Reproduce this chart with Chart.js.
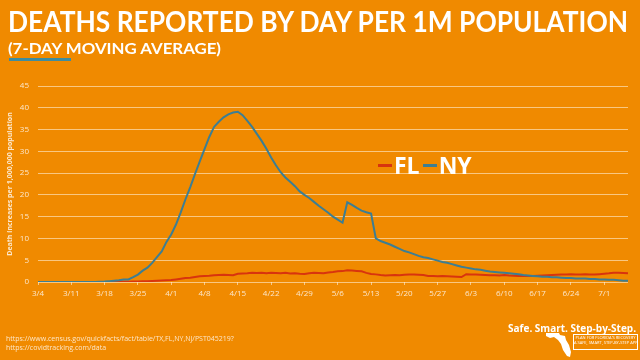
<!DOCTYPE html>
<html>
<head>
<meta charset="utf-8">
<script src="https://cdn.jsdelivr.net/npm/chart.js@4"></script>
<style>
  html, body { margin: 0; padding: 0; }
  body { width: 640px; height: 360px; background: #F08A00; position: relative; overflow: hidden; font-family: "Liberation Sans Narrow", "Open Sans", sans-serif; }
  #wrap { position: absolute; left: 0; top: 0; width: 640px; height: 360px; }
  .title { position: absolute; left: 8px; top: 4px; color: #fff; font-family: Lato, "Open Sans", sans-serif; font-weight: 700; font-size: 28px; white-space: nowrap; transform-origin: 0 0; letter-spacing: 0; }
  .sub { position: absolute; left: 8px; top: 38px; color: #fff; font-family: Lato, "Open Sans", sans-serif; font-weight: 700; font-size: 16px; white-space: nowrap; transform-origin: 0 0; }
  .uline { position: absolute; left: 9px; top: 58px; width: 62px; height: 3px; background: #3F8C9E; }
  .legend { position: absolute; left: 378px; top: 149px; color: #fff; font-family: "Open Sans", Lato, sans-serif; font-weight: 700; font-size: 23px; white-space: nowrap; display: flex; align-items: center; }
  .legend .sw { display: inline-block; width: 14px; height: 3px; margin-right: 2px; }
  .foot { position: absolute; left: 6px; color: #fde7c8; font-size: 7px; white-space: nowrap; }
  .logo1 { position: absolute; right: 4px; top: 321px; color: #fff; font-weight: 700; font-size: 10px; white-space: nowrap; }
  .logobox { position: absolute; left: 573px; top: 334px; width: 63px; height: 14px; border: 1px solid #fff; color: #fff; font-size: 4px; line-height: 5px; text-align: center; white-space: nowrap; overflow: hidden; }
</style>
</head>
<body>
<div id="wrap"><canvas id="c" width="640" height="360"></canvas></div>
<div class="title" id="title">DEATHS REPORTED BY DAY PER 1M POPULATION</div>
<div class="sub" id="sub">(7-DAY MOVING AVERAGE)</div>
<div class="uline"></div>
<div class="legend"><span class="sw" style="background:#D8340E"></span><span>FL</span><span class="sw" style="background:#3C7E93;margin-left:3px"></span><span>NY</span></div>
<div class="foot" style="top:334px">https://www.census.gov/quickfacts/fact/table/TX,FL,NY,NJ/PST045219?</div>
<div class="foot" style="top:343px">https://covidtracking.com/data</div>
<div class="logo1">Safe. Smart. Step-by-Step.</div>
<svg style="position:absolute;left:545px;top:332px" width="28" height="26" viewBox="0 0 28 26"><path d="M1 1 L14 1 L15 3 L20 4 L21 8 L24 13 L26 20 L25 25 L22 24 L18 18 L16 12 L13 8 L9 5 L5 6 L1 4 Z" fill="#fff"/></svg>
<div class="logobox">PLAN FOR FLORIDA'S RECOVERY<br>A SAFE, SMART, STEP-BY-STEP APPROACH</div>
<script>
const dates = [
 "3/4","3/5","3/6","3/7","3/8","3/9","3/10","3/11","3/12","3/13","3/14","3/15","3/16","3/17","3/18","3/19","3/20","3/21","3/22","3/23","3/24","3/25","3/26","3/27","3/28","3/29","3/30","3/31",
 "4/1","4/2","4/3","4/4","4/5","4/6","4/7","4/8","4/9","4/10","4/11","4/12","4/13","4/14","4/15","4/16","4/17","4/18","4/19","4/20","4/21","4/22","4/23","4/24","4/25","4/26","4/27","4/28","4/29","4/30",
 "5/1","5/2","5/3","5/4","5/5","5/6","5/7","5/8","5/9","5/10","5/11","5/12","5/13","5/14","5/15","5/16","5/17","5/18","5/19","5/20","5/21","5/22","5/23","5/24","5/25","5/26","5/27","5/28","5/29","5/30","5/31",
 "6/1","6/2","6/3","6/4","6/5","6/6","6/7","6/8","6/9","6/10","6/11","6/12","6/13","6/14","6/15","6/16","6/17","6/18","6/19","6/20","6/21","6/22","6/23","6/24","6/25","6/26","6/27","6/28","6/29","6/30",
 "7/1","7/2","7/3","7/4","7/5","7/6"
];
const nyValues = [
 0,0,0,0,0,0,0,0,0,0,0,0,0,0.05,0.1,0.2,0.3,0.4,0.55,0.6,
 1.1,1.7,2.6,3.3,4.4,5.7,7.0,9.2,10.9,13.2,16.0,19.0,21.8,24.8,27.7,30.5,33.3,35.6,36.8,37.8,
 38.5,38.9,39.1,38.3,37.0,35.6,34.0,32.4,30.6,28.6,26.8,25.2,24.0,23.0,22.0,20.8,20.0,19.3,18.4,17.5,
 16.7,15.9,15.0,14.3,13.6,18.3,17.7,17.0,16.4,16.0,15.7,10.0,9.4,9.0,8.6,8.1,7.6,7.1,6.8,6.4,
 6.0,5.7,5.5,5.2,4.9,4.6,4.4,4.1,3.8,3.5,3.3,3.1,2.9,2.8,2.6,2.4,2.3,2.2,2.1,2.0,
 1.9,1.8,1.6,1.5,1.4,1.3,1.2,1.2,1.1,1.1,1.0,0.9,0.9,0.8,0.8,0.8,0.7,0.7,0.6,0.6,
 0.5,0.5,0.4,0.3,0.3
];
const flValues = [
 0,0,0,0,0,0,0,0,0,0,0,0,0,0,0,0.02,0.04,0.05,0.07,0.08,
 0.09,0.1,0.15,0.2,0.25,0.3,0.35,0.4,0.45,0.6,0.75,0.9,1.0,1.15,1.3,1.4,1.45,1.55,1.6,1.65,
 1.6,1.55,1.9,1.95,2.0,2.1,2.05,2.1,2.0,2.1,2.05,2.0,2.1,1.95,2.0,1.9,1.85,2.0,2.1,2.05,
 2.0,2.2,2.3,2.45,2.5,2.7,2.65,2.55,2.45,2.1,1.85,1.75,1.6,1.5,1.55,1.6,1.55,1.65,1.7,1.7,
 1.65,1.6,1.4,1.35,1.3,1.35,1.3,1.25,1.2,1.15,1.8,1.75,1.7,1.65,1.6,1.55,1.55,1.5,1.6,1.5,
 1.45,1.4,1.4,1.4,1.35,1.45,1.5,1.55,1.6,1.65,1.7,1.75,1.8,1.75,1.7,1.8,1.75,1.7,1.8,1.9,
 2.0,2.15,2.1,2.05,2.0
];
const seriesNames = ["NY", "FL"];
const yTicks = [0,5,10,15,20,25,30,35,40,45];

function fit(id, w) {
  const el = document.getElementById(id);
  const r = el.getBoundingClientRect().width;
  el.style.transform = "scaleX(" + (w / r) + ")";
}
fit("title", 620);
fit("sub", 213);

const labelColor = "rgba(255,255,255,0.8)";
const gridColor = "rgba(255,240,215,0.6)";
const chartFont = "'Liberation Sans Narrow', 'Open Sans', sans-serif";

new Chart(document.getElementById("c"), {
  type: "line",
  data: {
    labels: dates,
    datasets: [
      { label: seriesNames[0], data: nyValues, borderColor: "#3C7E93", borderWidth: 2, pointRadius: 0, tension: 0 },
      { label: seriesNames[1], data: flValues, borderColor: "#D8340E", borderWidth: 2, pointRadius: 0, tension: 0 }
    ]
  },
  options: {
    responsive: false,
    animation: false,
    layout: { padding: { left: 0, top: 86, right: 12, bottom: 48 } },
    plugins: { legend: { display: false }, tooltip: { enabled: false } },
    scales: {
      x: {
        type: "category",
        offset: false,
        afterFit: s => { s.height = 30; },
        grid: { display: true, drawOnChartArea: false, drawTicks: true, tickLength: 3, color: gridColor },
        border: { display: false },
        ticks: {
          autoSkip: false, maxRotation: 0, minRotation: 0, padding: 4,
          color: labelColor, font: { family: chartFont, size: 8 },
          callback: function(v, i) { return i % 7 === 0 ? dates[i] : null; }
        }
      },
      y: {
        min: 0, max: 45,
        afterFit: s => { s.width = 38; },
        afterBuildTicks: s => { s.ticks = yTicks.map(v => ({ value: v })); },
        grid: { color: gridColor, lineWidth: 1, drawTicks: false },
        border: { display: false },
        ticks: { padding: 9, color: labelColor, font: { family: chartFont, size: 8 } },
        title: { display: true, text: "Death increases per 1,000,000 population", color: labelColor, padding: { top: 6, bottom: 0 }, font: { family: chartFont, size: 7, weight: "bold" } }
      }
    }
  }
});
</script>
</body>
</html>
